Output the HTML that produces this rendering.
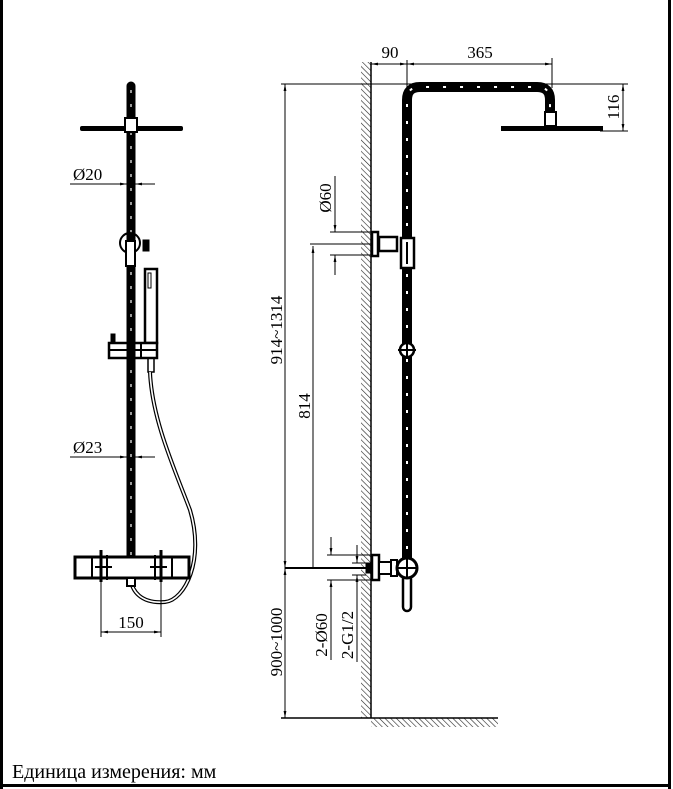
<!DOCTYPE html>
<html><head><meta charset="utf-8"><style>
html,body{margin:0;padding:0;background:#fff}
svg{display:block}
text{font-family:"Liberation Serif",serif;fill:#000}
</style></head><body>
<svg width="673" height="789" viewBox="0 0 673 789" xmlns="http://www.w3.org/2000/svg">
<defs>
<pattern id="hatch" width="4" height="4" patternUnits="userSpaceOnUse" patternTransform="rotate(-45)">
<line x1="0" y1="0" x2="0" y2="4" stroke="#222" stroke-width="1.2"/>
</pattern>
<marker id="ar" viewBox="0 0 10 10" refX="10" refY="5" markerWidth="7" markerHeight="7" orient="auto-start-reverse">
<path d="M0,3 L10,5 L0,7 z" fill="#000"/>
</marker>
</defs>
<rect x="0" y="0" width="3" height="789" fill="#000"/>
<rect x="668" y="0" width="3" height="789" fill="#000"/>
<rect x="0" y="784" width="671" height="3" fill="#000"/>
<text x="12" y="778" font-size="20">Единица измерения: мм</text>

<g stroke="#000" fill="none">
<!-- LEFT -->
<rect x="127" y="82" width="8" height="480" rx="4" fill="#000"/>
<line x1="131" y1="90" x2="131" y2="558" stroke="#fff" stroke-width="1.2" stroke-dasharray="3,11"/>
<rect x="80" y="126" width="103" height="5" rx="2" fill="#000" stroke="none"/>
<rect x="125" y="118" width="12" height="14" fill="#fff" stroke-width="2"/>
<line x1="70" y1="184" x2="127" y2="184" stroke-width="1" marker-end="url(#ar)"/>
<line x1="155" y1="184" x2="135" y2="184" stroke-width="1" marker-end="url(#ar)"/>
<circle cx="130" cy="243" r="10" stroke-width="2"/>
<rect x="126" y="241" width="9" height="25" fill="#fff" stroke-width="2"/>
<rect x="143" y="240" width="6" height="11" fill="#000"/>
<rect x="145" y="269" width="12" height="74" fill="#fff" stroke-width="2.5"/>
<rect x="148" y="273" width="3" height="15" stroke-width="1"/>
<rect x="148" y="358" width="6" height="14" fill="#fff" stroke-width="1.5"/>
<rect x="109" y="343" width="48" height="15" fill="#fff" stroke-width="2.5"/>
<line x1="109" y1="350" x2="157" y2="350" stroke-width="2"/>
<line x1="141" y1="343" x2="141" y2="358" stroke-width="2"/>
<rect x="111" y="334" width="4" height="9" fill="#000"/>
<rect x="127" y="343" width="8" height="15" fill="#000"/>
<path d="M150,372 C152,420 175,470 190,510 C205,560 185,600 165,602 C140,604 132,590 131,580" stroke-width="4"/>
<path d="M150,372 C152,420 175,470 190,510 C205,560 185,600 165,602 C140,604 132,590 131,580" stroke="#fff" stroke-width="1.6"/>
<line x1="70" y1="457" x2="127" y2="457" stroke-width="1" marker-end="url(#ar)"/>
<line x1="155" y1="457" x2="135" y2="457" stroke-width="1" marker-end="url(#ar)"/>
<rect x="75" y="557" width="114" height="21" fill="#fff" stroke-width="3"/>
<line x1="92" y1="558" x2="92" y2="577" stroke-width="2"/>
<line x1="172" y1="558" x2="172" y2="577" stroke-width="2"/>
<line x1="95" y1="567" x2="112" y2="567" stroke-width="2"/>
<line x1="150" y1="567" x2="167" y2="567" stroke-width="2"/>
<line x1="101" y1="550" x2="101" y2="582" stroke-width="3"/>
<line x1="161" y1="550" x2="161" y2="582" stroke-width="3"/>
<line x1="107" y1="555" x2="107" y2="580" stroke-width="2"/>
<line x1="155" y1="555" x2="155" y2="580" stroke-width="2"/>
<rect x="127" y="578" width="8" height="8" fill="#fff" stroke-width="2"/>
<line x1="101" y1="582" x2="101" y2="637" stroke-width="1"/>
<line x1="161" y1="582" x2="161" y2="637" stroke-width="1"/>
<line x1="101" y1="632" x2="161" y2="632" stroke-width="1" marker-start="url(#ar)" marker-end="url(#ar)"/>

<!-- RIGHT -->
<rect x="361" y="62" width="10" height="656" fill="url(#hatch)" stroke="none"/>
<line x1="371" y1="62" x2="371" y2="718" stroke-width="1.5"/>
<rect x="371" y="718" width="127" height="9" fill="url(#hatch)" stroke="none"/>
<line x1="371" y1="718" x2="498" y2="718" stroke-width="1.5"/>
<line x1="281" y1="84" x2="628" y2="84" stroke-width="1"/>
<line x1="371" y1="64" x2="407" y2="64" stroke-width="1" marker-start="url(#ar)" marker-end="url(#ar)"/>
<line x1="407" y1="64" x2="552" y2="64" stroke-width="1" marker-start="url(#ar)" marker-end="url(#ar)"/>
<line x1="407" y1="60" x2="407" y2="88" stroke-width="1"/>
<line x1="552" y1="58" x2="552" y2="88" stroke-width="1"/>
<path d="M407,600 L407,100 Q407,87 420,87 L537,87 Q550,87 550,100 L550,122" stroke-width="10"/>
<path d="M407,600 L407,100 Q407,87 420,87 L537,87 Q550,87 550,100 L550,122" stroke="#fff" stroke-width="2" stroke-dasharray="3,14"/>
<rect x="545" y="112" width="11" height="14" fill="#fff" stroke-width="2"/>
<rect x="501" y="126" width="102" height="5" fill="#000" stroke="none"/>
<line x1="600" y1="131" x2="628" y2="131" stroke-width="1"/>
<line x1="623" y1="84" x2="623" y2="131" stroke-width="1" marker-start="url(#ar)" marker-end="url(#ar)"/>
<line x1="310" y1="244" x2="395" y2="244" stroke-width="1"/>
<rect x="372" y="232" width="6" height="24" fill="#fff" stroke-width="2.5"/>
<rect x="379" y="237" width="18" height="14" fill="#fff" stroke-width="2.5"/>
<rect x="401" y="238" width="13" height="30" fill="#fff" stroke-width="2.5"/>
<line x1="407" y1="242" x2="407" y2="264" stroke-width="2"/>
<line x1="330" y1="232" x2="372" y2="232" stroke-width="1"/>
<line x1="330" y1="255" x2="372" y2="255" stroke-width="1"/>
<line x1="335" y1="176" x2="335" y2="232" stroke-width="1" marker-end="url(#ar)"/>
<line x1="335" y1="275" x2="335" y2="255" stroke-width="1" marker-end="url(#ar)"/>
<circle cx="407" cy="350" r="7" fill="#fff" stroke-width="2.5"/>
<line x1="398" y1="350" x2="416" y2="350" stroke-width="2"/>
<line x1="407" y1="342" x2="407" y2="358" stroke-width="2"/>
<line x1="285" y1="84" x2="285" y2="568" stroke-width="1" marker-start="url(#ar)" marker-end="url(#ar)"/>
<line x1="313" y1="246" x2="313" y2="568" stroke-width="1" marker-start="url(#ar)"/>
<line x1="285" y1="568" x2="372" y2="568" stroke-width="2"/>
<rect x="366" y="563" width="6" height="10" fill="#000"/>
<rect x="372" y="555" width="7" height="25" fill="#fff" stroke-width="2.5"/>
<rect x="379" y="562" width="12" height="12" fill="#fff" stroke-width="2"/>
<rect x="391" y="560" width="6" height="16" fill="#fff" stroke-width="2"/>
<rect x="403" y="575" width="8" height="36" rx="4" fill="#fff" stroke-width="2.5"/>
<circle cx="407" cy="568" r="10" fill="#fff" stroke-width="3"/>
<line x1="396" y1="568" x2="418" y2="568" stroke-width="2"/>
<line x1="407" y1="557" x2="407" y2="579" stroke-width="2"/>
<line x1="327" y1="555" x2="372" y2="555" stroke-width="1"/>
<line x1="327" y1="580" x2="372" y2="580" stroke-width="1"/>
<line x1="331" y1="537" x2="331" y2="555" stroke-width="1" marker-end="url(#ar)"/>
<line x1="331" y1="660" x2="331" y2="580" stroke-width="1" marker-end="url(#ar)"/>
<line x1="352" y1="563" x2="366" y2="563" stroke-width="1"/>
<line x1="352" y1="575" x2="366" y2="575" stroke-width="1"/>
<line x1="357" y1="545" x2="357" y2="563" stroke-width="1" marker-end="url(#ar)"/>
<line x1="357" y1="662" x2="357" y2="575" stroke-width="1" marker-end="url(#ar)"/>
<line x1="281" y1="718" x2="371" y2="718" stroke-width="1.5"/>
<line x1="285" y1="568" x2="285" y2="718" stroke-width="1" marker-start="url(#ar)" marker-end="url(#ar)"/>
</g>

<g font-size="17">
<text x="73" y="180">Ø20</text>
<text x="73" y="453">Ø23</text>
<text x="131" y="628" text-anchor="middle">150</text>
<text x="390" y="58" text-anchor="middle">90</text>
<text x="480" y="58" text-anchor="middle">365</text>
<text transform="translate(619,107) rotate(-90)" text-anchor="middle">116</text>
<text transform="translate(331,198) rotate(-90)" text-anchor="middle">Ø60</text>
<text transform="translate(282,330) rotate(-90)" text-anchor="middle">914~1314</text>
<text transform="translate(310,406) rotate(-90)" text-anchor="middle">814</text>
<text transform="translate(327,635) rotate(-90)" text-anchor="middle">2-Ø60</text>
<text transform="translate(353,635) rotate(-90)" text-anchor="middle">2-G1/2</text>
<text transform="translate(282,642) rotate(-90)" text-anchor="middle">900~1000</text>
</g>
</svg>
</body></html>
